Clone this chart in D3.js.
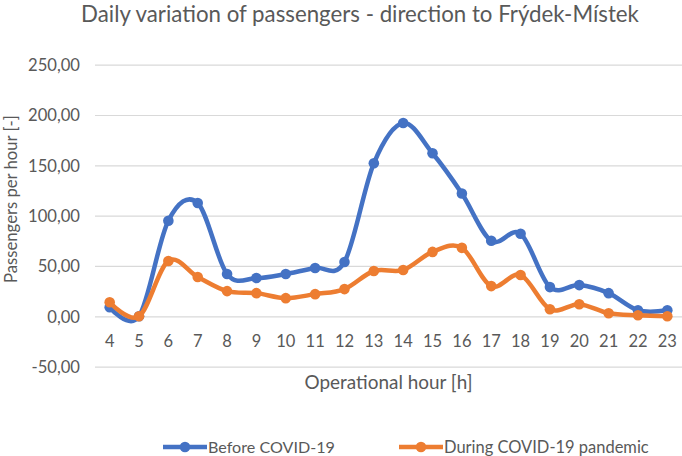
<!DOCTYPE html>
<html><head><meta charset="utf-8">
<script src="https://cdn.jsdelivr.net/npm/d3@7"></script>
<style>body{margin:0;background:#fff}svg{display:block}text{font-family:Lato,"Open Sans",sans-serif;fill:#595959}</style>
</head><body><svg id="c" width="682" height="456"></svg>
<script>
const hours = [4,5,6,7,8,9,10,11,12,13,14,15,16,17,18,19,20,21,22,23];
const beforeCovid = [9,0,95,112.5,42,38,42,48,54,152,192,162,122,75,82,29,31,23,6,6];
const duringCovid = [14,0,55,39,25,23,18,22,27,45,46,64,68,30,41,7,12,3,1,0];
const yTicks = [-50,0,50,100,150,200,250];
const seriesNames = ["Before COVID-19","During COVID-19 pandemic"];
const colors = ["#4472C4","#ED7D31"];
const titleText = "Daily variation of passengers - direction to Frýdek-Místek";
const xTitle = "Operational hour [h]";
const yTitle = "Passengers per hour [-]";

const svg = d3.select("#c");
const L = 95, R = 682, T = 64.7, B = 366.6;
const x = d3.scaleBand().domain(hours).range([L, R]);
const y = d3.scaleLinear().domain([-50, 250]).range([B, T]);

function fit(sel, w){ const n = sel.node(); const fs = parseFloat(sel.attr("font-size")); const len = n.getComputedTextLength(); sel.attr("font-size", fs*w/len); }

// title
const tt = svg.append("text").attr("x", 360).attr("y", 21.5).attr("text-anchor","middle").attr("font-size",20).text(titleText);
fit(tt, 558);

// grid + y axis
const yAxis = d3.axisLeft(y).tickValues(yTicks).tickSize(-(R-L)).tickPadding(15)
  .tickFormat(d => d3.format(".2f")(d).replace(".", ",").replace("\u2212","-"));
const gy = svg.append("g").attr("transform",`translate(${L},0)`).call(yAxis);
gy.select(".domain").remove();
gy.selectAll(".tick line").attr("stroke","#d9d9d9").attr("stroke-width",1.2);
gy.selectAll(".tick text").attr("font-size",16.5).attr("fill","#595959").style("font-family","Lato").attr("x",-15).attr("dy","0.35em");
{ const t = gy.selectAll(".tick text").filter(d=>d===250); const len = t.node().getComputedTextLength(); gy.selectAll(".tick text").attr("font-size",16.5*52/len); }

// x axis labels
const xAxis = d3.axisBottom(x).tickSize(0).tickPadding(0);
const gx = svg.append("g").attr("transform",`translate(0,${y(0)})`).call(xAxis);
gx.select(".domain").remove();
gx.selectAll(".tick text").attr("font-size",16.5).attr("fill","#595959").style("font-family","Lato").attr("dy",0).attr("y",31);

// axis titles
const xt = svg.append("text").attr("x",(L+R)/2).attr("y",389).attr("text-anchor","middle").attr("font-size",18).text(xTitle);
fit(xt,168);
const yt = svg.append("text").attr("transform","translate(17,199) rotate(-90)").attr("text-anchor","middle").attr("font-size",18).text(yTitle);
fit(yt,168);

// lines
const line = d3.line().x((d,i)=>x(hours[i])+x.bandwidth()/2).y(d=>y(d)).curve(d3.curveCatmullRom.alpha(0));
[beforeCovid, duringCovid].forEach((s,k)=>{
  const g = svg.append("g");
  g.append("path").attr("d", line(s)).attr("fill","none").attr("stroke",colors[k]).attr("stroke-width",4.5).attr("stroke-linecap","round");
  g.selectAll("circle").data(s).join("circle").attr("cx",(d,i)=>x(hours[i])+x.bandwidth()/2).attr("cy",d=>y(d)).attr("r",5.3).attr("fill",colors[k]);
});

// legend
const legX = [163, 399], legText = [127, 205];
seriesNames.forEach((n,k)=>{
  const g = svg.append("g").attr("transform",`translate(${legX[k]},447)`);
  g.append("line").attr("x1",0).attr("x2",44).attr("stroke",colors[k]).attr("stroke-width",4.5);
  g.append("circle").attr("cx",22).attr("r",5.3).attr("fill",colors[k]);
  const t = g.append("text").attr("x",45).attr("y",6).attr("font-size",17).text(n);
  fit(t, legText[k]);
});
</script></body></html>
